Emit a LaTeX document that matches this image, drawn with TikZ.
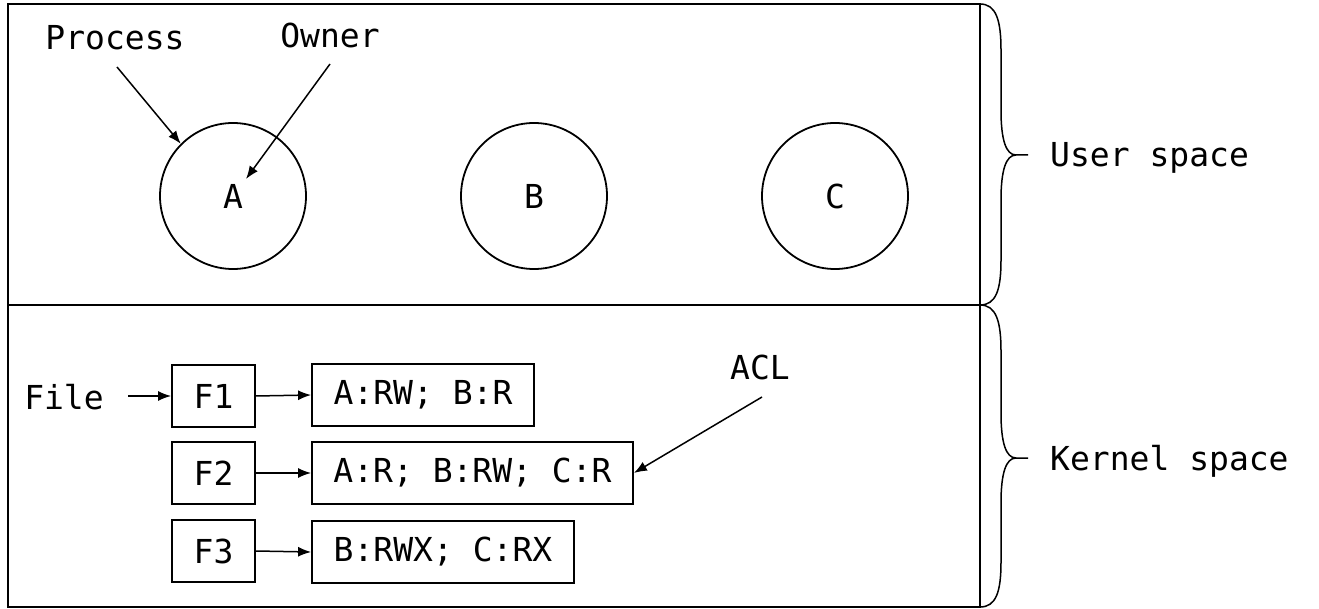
\documentclass[tikz,border=0pt]{standalone}
\usepackage{fontspec}
\setmonofont{DejaVu Sans Mono}
\usetikzlibrary{arrows.meta}
\tikzset{
  lbl/.style={font=\ttfamily\fontsize{33}{40}\selectfont, inner sep=0pt},
  proc/.style={circle, draw, line width=1.8pt, minimum size=146pt, inner sep=0pt, font=\ttfamily\fontsize{33}{40}\selectfont},
  fbox/.style={draw, line width=1.8pt, minimum width=83pt, minimum height=62pt, inner sep=0pt, font=\ttfamily\fontsize{33}{40}\selectfont},
  aclbox/.style={draw, line width=1.8pt, minimum height=62pt, inner sep=0pt, font=\ttfamily\fontsize{33}{40}\selectfont},
  conn/.style={line width=1.5pt, -{Latex[length=13pt,width=10pt]}},
  bracepath/.style={line width=1.5pt},
  frame/.style={line width=2pt}
}
\begin{document}
\begin{tikzpicture}[x=1pt,y=-1pt]
\useasboundingbox (0,0) rectangle (1319,609);
% frame
\draw[frame] (8,4) rectangle (980,607);
\draw[frame] (8,305) -- (980,305);
% processes
\node[proc] (A) at (233,196) {A};
\node[proc] (B) at (534,196) {B};
\node[proc] (C) at (835,196) {C};
\node[lbl] (process) at (115,38) {Process};
\node[lbl] (owner) at (330,35) {Owner};
\coordinate (procend) at (117,67);
\coordinate (ownerend) at (330,64);
\coordinate (ownertip) at (246,179);
\draw[conn] (procend) -- (A.135);
\draw[conn] (ownerend) -- (ownertip);
% files
\node[lbl] (file) at (64,397) {File};
\coordinate (fileend) at (128,396);
\node[fbox] (F1) at (213.5,396) {F1};
\node[fbox] (F2) at (213.5,473) {F2};
\node[fbox] (F3) at (213.5,551) {F3};
\node[aclbox, minimum width=222pt] (acl1) at (423,395) {A:RW; B:R};
\node[aclbox, minimum width=321pt] (acl2) at (472.5,473) {A:R; B:RW; C:R};
\node[aclbox, minimum width=262pt] (acl3) at (443,552) {B:RWX; C:RX};
\draw[conn] (fileend) -- (F1.west);
\draw[conn] (F1.east) -- (acl1.west);
\draw[conn] (F2.east) -- (acl2.west);
\draw[conn] (F3.east) -- (acl3.west);
\node[lbl] (acl) at (760,367) {ACL};
\coordinate (aclend) at (762,397);
\draw[conn] (aclend) -- (acl2.east);
% braces
\draw[bracepath] (980,4) .. controls (996,4) and (1001,20) .. (1001,50) -- (1001,110)
  .. controls (1001,140) and (1006,155) .. (1016,155) -- (1028,155);
\draw[bracepath] (1016,155) .. controls (1006,155) and (1001,170) .. (1001,200) -- (1001,260)
  .. controls (1001,290) and (996,305) .. (980,305);
\draw[bracepath] (980,305) .. controls (996,305) and (1001,321) .. (1001,351) -- (1001,413)
  .. controls (1001,443) and (1006,458) .. (1016,458) -- (1028,458);
\draw[bracepath] (1016,458) .. controls (1006,458) and (1001,473) .. (1001,503) -- (1001,562)
  .. controls (1001,592) and (996,607) .. (980,607);
\node[lbl, anchor=west] (user) at (1050,158) {User space};
\node[lbl, anchor=west] (kernel) at (1050,461) {Kernel space};
\end{tikzpicture}
\end{document}
